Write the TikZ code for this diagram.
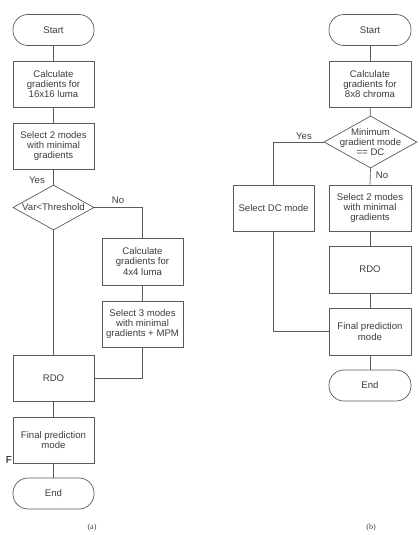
\documentclass[tikz,border=0pt]{standalone}
\usepackage{fontspec}
\setmainfont{Liberation Serif}
\newfontfamily\diagfont{Liberation Sans}
\usetikzlibrary{shapes.geometric}
\definecolor{edgec}{HTML}{5A5A5A}
\definecolor{textc}{HTML}{3C3C3C}
\begin{document}
\begin{tikzpicture}[x=1pt,y=-1pt,
  every node/.style={font=\diagfont\fontsize{9.6}{10.3}\selectfont, text=textc},
  box/.style={draw=edgec, line width=0.7pt, rectangle, minimum width=81pt, minimum height=46pt, inner sep=1pt, align=center},
  term/.style={draw=edgec, line width=0.7pt, rectangle, rounded corners=15pt, minimum width=81pt, minimum height=31pt, inner sep=1pt, align=center},
  dec/.style={draw=edgec, line width=0.7pt, diamond, inner sep=0pt},
  conn/.style={draw=edgec, line width=0.7pt},
  lbl/.style={inner sep=0pt}
]
\useasboundingbox (0,0) rectangle (419,535);
% ---- (a) ----
\node[term] (startA) at (53.5,30) {Start};
\node[box] (calcA) at (53.5,84) {Calculate\\gradients for\\16x16 luma};
\node[box] (selA) at (53.5,146) {Select 2 modes\\with minimal\\gradients};
\node[dec, minimum width=81pt, minimum height=45pt, label={center:Var<Threshold}] (diaA) at (53.5,207.5) {};
\node[box, minimum height=47pt] (calc4) at (142.5,261.5) {Calculate\\gradients for\\4x4 luma};
\node[box] (sel3) at (142.5,324) {Select 3 modes\\with minimal\\gradients + MPM};
\node[box] (rdoA) at (53.5,378) {RDO};
\node[box] (finA) at (53.5,440) {Final prediction\\mode};
\node[term] (endA) at (53.5,493.5) {End};
\draw[conn] (startA) -- (calcA);
\draw[conn] (calcA) -- (selA);
\draw[conn] (selA) -- (diaA);
\draw[conn] (diaA.south) -- (rdoA.north);
\draw[conn] (diaA.east) -| (calc4.north);
\draw[conn] (calc4) -- (sel3);
\draw[conn] (sel3.south) |- (rdoA.east);
\draw[conn] (rdoA) -- (finA);
\draw[conn] (finA) -- (endA);
\node[lbl] (yesA) at (37,180) {Yes};
\node[lbl] (noA) at (118,200) {No};
\node[lbl, text=black, font=\diagfont\fontsize{10}{11}\selectfont] (fA) at (9,460) {F};
\node[lbl, font=\fontsize{8}{9}\selectfont] (capA) at (92,528) {(a)};
% ---- (b) ----
\node[term, minimum width=82pt] (startB) at (370,30) {Start};
\node[box, minimum width=82pt] (calcB) at (370,84) {Calculate\\gradients for\\8x8 chroma};
\node[dec, minimum width=93pt, minimum height=52pt, label={[align=center]center:Minimum\\gradient mode\\== DC}] (diaB) at (370.5,142) {};
\node[box] (selDC) at (273.5,208) {Select DC mode};
\node[box, minimum width=82pt] (sel2B) at (370,208) {Select 2 modes\\with minimal\\gradients};
\node[box, minimum width=82pt, minimum height=47pt] (rdoB) at (370,269.5) {RDO};
\node[box, minimum width=82pt, minimum height=47pt] (finB) at (370,331.5) {Final prediction\\mode};
\node[term, minimum width=82pt] (endB) at (370,385.5) {End};
\draw[conn] (startB) -- (calcB);
\draw[conn] (calcB) -- (diaB);
\draw[conn] (diaB.west) -| (selDC.north);
\draw[conn] (diaB.south) -- (sel2B.north);
\draw[conn] (sel2B) -- (rdoB);
\draw[conn] (rdoB) -- (finB);
\draw[conn] (selDC.south) |- (finB.west);
\draw[conn] (finB) -- (endB);
\node[lbl] (yesB) at (304,136) {Yes};
\node[lbl] (noB) at (382,175) {No};
\node[lbl, font=\fontsize{8}{9}\selectfont] (capB) at (371,528) {(b)};
\end{tikzpicture}
\end{document}
